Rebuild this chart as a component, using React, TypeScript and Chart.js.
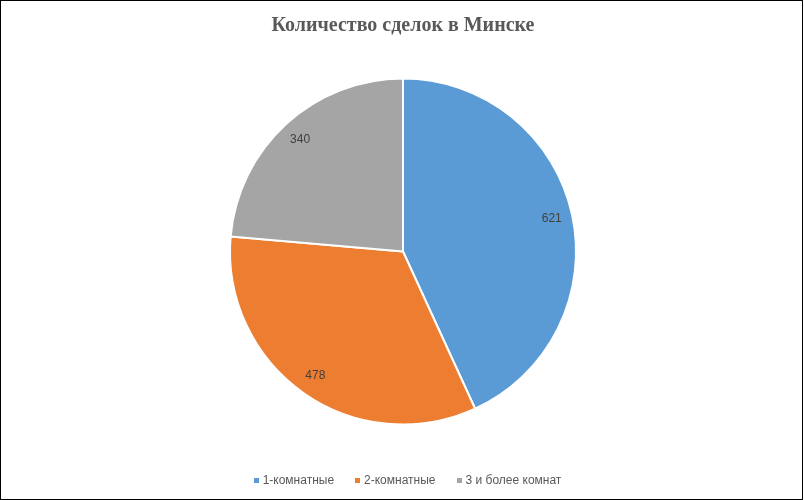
import React, { useEffect, useRef } from "react";
import { Chart, registerables } from "chart.js";

Chart.register(...registerables);

const titleText = "Количество сделок в Минске";
const categories = ["1-комнатные", "2-комнатные", "3 и более комнат"];
const dealCounts = [621, 478, 340];
const sliceColors = ["#5B9BD5", "#ED7D31", "#A5A5A5"];

const labelPlugin = {
  id: "sliceLabels",
  afterDatasetsDraw(chart: any) {
    const meta = chart.getDatasetMeta(0);
    const ctx = chart.ctx;
    const ds = chart.data.datasets[0];
    ctx.save();
    ctx.font = "12px 'Liberation Sans', Arial, sans-serif";
    ctx.fillStyle = "#404040";
    ctx.textAlign = "center";
    ctx.textBaseline = "middle";
    meta.data.forEach((arc: any, i: number) => {
      const p = arc.getProps(["x", "y", "startAngle", "endAngle", "outerRadius"], true);
      const mid = (p.startAngle + p.endAngle) / 2;
      const r = p.outerRadius * 0.88;
      ctx.fillText(String(ds.data[i]), p.x + Math.cos(mid) * r, p.y + Math.sin(mid) * r);
    });
    ctx.restore();
  },
};

export default function App() {
  const ref = useRef<HTMLCanvasElement | null>(null);
  useEffect(() => {
    document.body.style.margin = "0";
    const chart = new Chart(ref.current as HTMLCanvasElement, {
      type: "pie",
      data: {
        labels: categories,
        datasets: [
          {
            data: dealCounts,
            backgroundColor: sliceColors,
            borderColor: "#ffffff",
            borderWidth: 2,
            hoverOffset: 0,
          },
        ],
      },
      options: {
        animation: false,
        responsive: false,
        maintainAspectRatio: false,
        layout: { padding: { left: 3, right: 0, top: 0, bottom: 73.5 } },
        plugins: {
          legend: { display: false },
          tooltip: { enabled: false },
          title: {
            display: true,
            text: titleText,
            color: "#595959",
            font: { family: "'Liberation Serif', 'Times New Roman', serif", size: 20, weight: "bold" },
            padding: { top: 13, bottom: 39.5 },
          },
        },
      },
      plugins: [labelPlugin],
    });
    return () => chart.destroy();
  }, []);

  return (
    <div
      style={{
        position: "absolute",
        left: 0,
        top: 0,
        width: 803,
        height: 500,
        boxSizing: "border-box",
        border: "1px solid #000",
        background: "#fff",
      }}
    >
      <canvas ref={ref} width={801} height={498} style={{ position: "absolute", left: 0, top: 0, width: 801, height: 498 }} />
      <div
        style={{
          position: "absolute",
          left: 0,
          width: 801,
          top: 470,
          height: 18,
          display: "flex",
          justifyContent: "center",
          alignItems: "center",
          gap: 21,
          paddingLeft: 12,
          boxSizing: "border-box",
          fontFamily: "'Liberation Sans', Arial, sans-serif",
          fontSize: 12,
          color: "#595959",
        }}
      >
        {categories.map((c, i) => (
          <div key={c} style={{ display: "flex", alignItems: "center" }}>
            <span style={{ display: "inline-block", width: 5, height: 5, background: sliceColors[i], marginRight: 4 }} />
            <span>{c}</span>
          </div>
        ))}
      </div>
    </div>
  );
}
